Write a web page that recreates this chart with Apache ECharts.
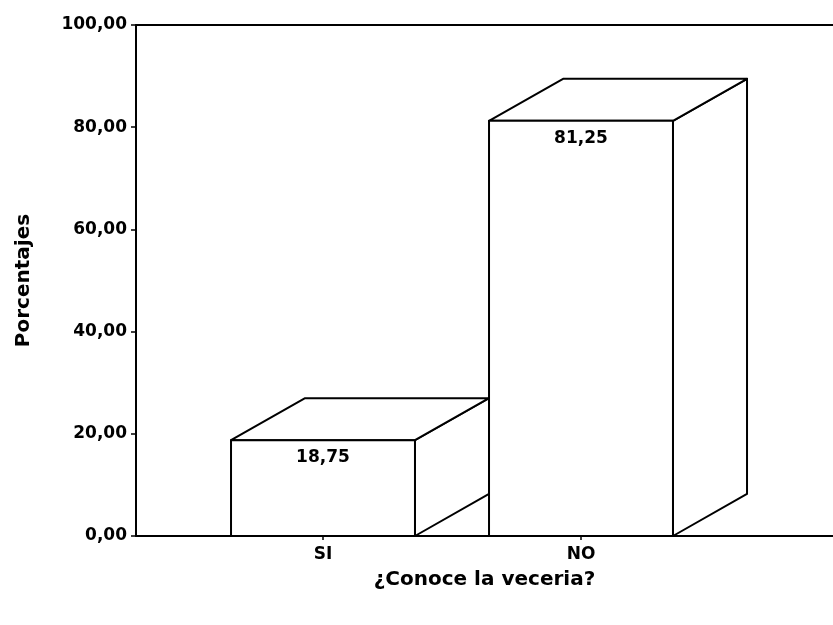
<!DOCTYPE html>
<html>
<head>
<meta charset="utf-8">
<style>
  html, body { margin: 0; padding: 0; background: #ffffff; }
  #chart { width: 833px; height: 625px; }
</style>
<script src="https://cdn.jsdelivr.net/npm/echarts@6/dist/echarts.min.js"></script>
</head>
<body>
<div id="chart"></div>
<script>
// Survey answers: percentage of respondents
var categories = ['SI', 'NO'];
var percentages = [18.75, 81.25];
var yTicks = [0, 20, 40, 60, 80, 100];

var FONT = '"DejaVu Sans", sans-serif';
var INK = '#000000';

function fmtComma(v) {
  return Number(v).toFixed(2).replace('.', ',');
}

// Draws one box-shaped bar: front face, top face and right side face
function renderBox(params, api) {
  var idx = api.value(0);
  var val = api.value(1);
  var base = api.coord([idx, 0]);
  var top = api.coord([idx, val]);
  var band = api.size([1, 0])[0];
  var w = band * 0.713;
  var dx = band * 0.287;
  var dy = band * 0.163;
  var x0 = base[0] - w / 2;
  var x1 = base[0] + w / 2;
  var yb = base[1];
  var yt = top[1];
  var style = { fill: '#ffffff', stroke: INK, lineWidth: 2, lineJoin: 'round' };
  return {
    type: 'group',
    children: [
      {
        type: 'polygon',
        shape: { points: [[x1, yt], [x1 + dx, yt - dy], [x1 + dx, yb - dy], [x1, yb]] },
        style: style
      },
      {
        type: 'polygon',
        shape: { points: [[x0, yt], [x0 + dx, yt - dy], [x1 + dx, yt - dy], [x1, yt]] },
        style: style
      },
      {
        type: 'rect',
        shape: { x: x0, y: yt, width: w, height: yb - yt },
        style: style
      },
      {
        type: 'text',
        x: base[0],
        y: yt + 17.5,
        style: {
          text: fmtComma(val),
          fill: INK,
          font: 'bold 17px ' + FONT,
          align: 'center',
          verticalAlign: 'middle'
        }
      }
    ]
  };
}

var chart = echarts.init(document.getElementById('chart'), null, { renderer: 'canvas' });

chart.setOption({
  backgroundColor: '#ffffff',
  animation: false,
  grid: [
    { left: 136, right: 0, top: 25, bottom: 89 },
    { left: 194, width: 516, top: 25, bottom: 89 }
  ],
  xAxis: [
    {
      gridIndex: 0,
      type: 'value',
      min: 0,
      max: 1,
      position: 'bottom',
      axisLine: { show: true, lineStyle: { color: INK, width: 1.8 } },
      axisTick: { show: false },
      axisLabel: { show: false },
      splitLine: { show: false },
      name: '¿Conoce la veceria?',
      nameLocation: 'middle',
      nameGap: 34,
      nameTextStyle: { fontFamily: FONT, fontWeight: 'bold', fontSize: 20, color: INK }
    },
    {
      gridIndex: 0,
      type: 'value',
      min: 0,
      max: 1,
      position: 'top',
      axisLine: { show: true, lineStyle: { color: INK, width: 1.8 } },
      axisTick: { show: false },
      axisLabel: { show: false },
      splitLine: { show: false }
    },
    {
      gridIndex: 1,
      type: 'category',
      data: categories,
      axisLine: { show: false },
      axisTick: { show: true, alignWithLabel: true, length: 4, lineStyle: { color: INK, width: 1.5 } },
      axisLabel: { color: INK, fontFamily: FONT, fontWeight: 'bold', fontSize: 17, margin: 10 },
      splitLine: { show: false }
    }
  ],
  yAxis: [
    {
      gridIndex: 0,
      type: 'value',
      min: 0,
      max: 100,
      interval: 20,
      axisLine: { show: true, lineStyle: { color: INK, width: 2 } },
      axisTick: { show: true, length: 5, lineStyle: { color: INK, width: 1.5 } },
      axisLabel: {
        color: INK,
        fontFamily: FONT,
        fontWeight: 'bold',
        fontSize: 17,
        margin: 9,
        formatter: function (v) {
          return yTicks.indexOf(v) >= 0 ? fmtComma(v) : '';
        }
      },
      splitLine: { show: false },
      name: 'Porcentajes',
      nameLocation: 'middle',
      nameRotate: 90,
      nameGap: 102,
      nameTextStyle: { fontFamily: FONT, fontWeight: 'bold', fontSize: 20, color: INK }
    },
    {
      gridIndex: 1,
      type: 'value',
      min: 0,
      max: 100,
      show: false
    }
  ],
  series: [
    {
      type: 'custom',
      xAxisIndex: 2,
      yAxisIndex: 1,
      renderItem: renderBox,
      encode: { x: 0, y: 1 },
      data: categories.map(function (c, i) { return [i, percentages[i]]; })
    }
  ]
});
</script>
</body>
</html>
